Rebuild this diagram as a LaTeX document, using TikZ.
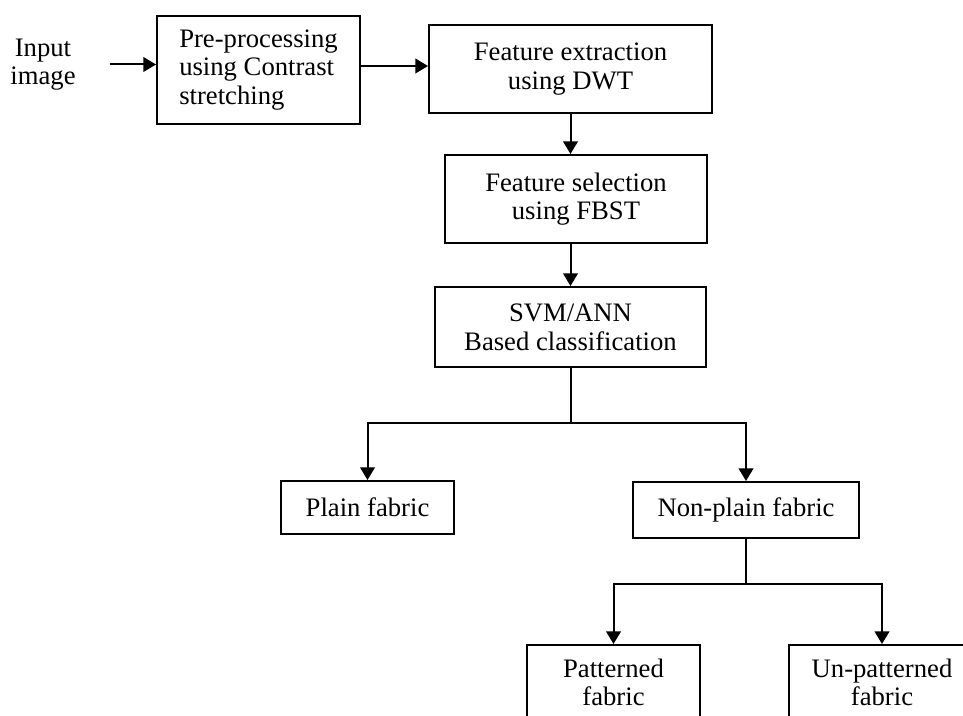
\documentclass[tikz,border=0pt]{standalone}
\usepackage{fontspec}
\setmainfont{Liberation Serif}
\usetikzlibrary{arrows.meta}

\begin{document}
\begin{tikzpicture}[
            x=0.75pt, y=-0.75pt,
            box/.style={
                draw, line width=1.5pt, inner sep=0pt, align=center,
                font=\fontsize{20}{21.5}\selectfont
            },
            arr/.style={
                line width=1.5pt,
                -{Triangle[length=9.5pt,width=11pt]}
            }
        ]
        \useasboundingbox (0,0) rectangle (963,716);
        \clip (0,0) rectangle (963,716);

        % top row
        \node[align=center, font=\fontsize{20}{21.5}\selectfont] (input) at (43,64.5) {Input\\image};
        \node[box, align=left, minimum width=152.25pt, minimum height=81pt] (pre) at (258.5,70)
            {Pre-processing\\using Contrast\\stretching};
        \node[box, minimum width=212.25pt, minimum height=66pt] (fe) at (570.5,69)
            {Feature extraction\\using DWT};

        % middle column
        \node[box, minimum width=196.5pt, minimum height=66pt] (fs) at (576,199)
            {Feature selection\\using FBST};
        \node[box, minimum width=203.25pt, minimum height=60pt] (cls) at (570.5,327)
            {SVM/ANN\\Based classification};

        % classes
        \node[box, minimum width=129.75pt, minimum height=39.75pt] (plain) at (367.5,507.5)
            {Plain fabric};
        \node[box, minimum width=169.5pt, minimum height=42pt] (nonplain) at (746,510)
            {Non-plain fabric};
        \node[box, minimum width=129.75pt, minimum height=56.25pt] (pat) at (613.5,682.5)
            {Patterned\\fabric};
        \node[box, minimum width=139.5pt, minimum height=56.25pt] (unpat) at (882,682.5)
            {Un-patterned\\fabric};

        \draw[arr] ([xshift=22pt]input.east) -- (input.east -| pre.west);
        \draw[arr] ([yshift=3pt]pre.east) -- ([yshift=3pt]pre.east -| fe.west);
        \draw[arr] (fe.south) -- (fe.south |- fs.north);
        \draw[arr] (cls.north |- fs.south) -- (cls.north);

        \draw[arr] (cls.south) -- ++(0,55) -| (plain.north);
        \draw[arr] (cls.south) -- ++(0,55) -| (nonplain.north);
        \draw[arr] (nonplain.south) -- ++(0,45) -| (pat.north);
        \draw[arr] (nonplain.south) -- ++(0,45) -| (unpat.north);
        \end{tikzpicture}
\end{document}
